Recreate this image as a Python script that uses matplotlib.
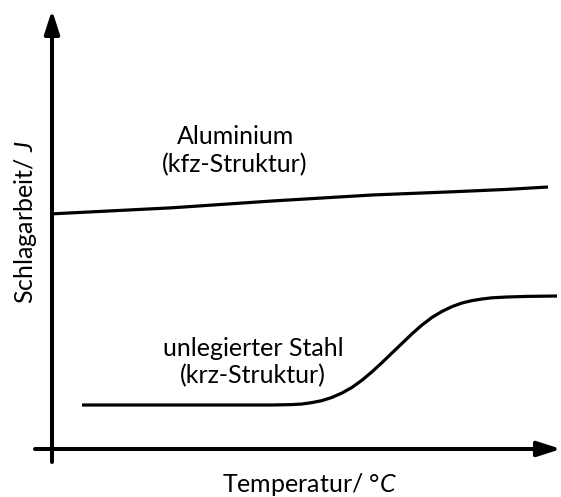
import matplotlib
matplotlib.use("Agg")
import matplotlib.pyplot as plt

plt.rcParams["font.family"] = ["Lato", "DejaVu Sans"]
plt.rcParams["mathtext.fontset"] = "custom"
plt.rcParams["mathtext.rm"] = "Lato"
plt.rcParams["mathtext.it"] = "Lato:italic"

# schematic curves, temperature (0..100) vs. impact energy (0..100)
alu_temp = [0.2, 24, 44, 64, 80, 91, 99.2]
alu_energy = [58.8, 60.3, 62.0, 63.5, 64.3, 64.9, 65.5]

steel_temp = [6, 44, 48, 50, 52, 54, 56, 58, 60, 62, 64, 66, 68, 70, 72, 74,
              76, 78, 80, 82, 84, 86, 88, 91, 95, 101]
steel_energy = [11, 11, 11.1, 11.25, 11.6, 12.1, 12.9, 14.0, 15.4, 17.2, 19.3,
                21.6, 24.0, 26.4, 28.8, 31.0, 32.9, 34.4, 35.6, 36.5, 37.1,
                37.5, 37.8, 38.0, 38.15, 38.25]

xlabel = "Temperatur/ $\\mathit{°C}$"
ylabel = "Schlagarbeit/ $\\mathit{J}$"

fig = plt.figure(figsize=(5.61, 4.97), dpi=100)
ax = fig.add_axes([52 / 561, 48 / 497, 500 / 561, 400 / 497])
ax.set_xlim(0, 100)
ax.set_ylim(0, 100)
ax.axis("off")

lw_axis = 2.9
ax.annotate("", xy=(0, 109.75), xytext=(0, -3.25),
            arrowprops=dict(arrowstyle="-|>,head_length=1.4,head_width=0.45",
                            lw=lw_axis, color="black", shrinkA=0, shrinkB=0),
            annotation_clip=False)
ax.annotate("", xy=(101.8, 0), xytext=(-3.4, 0),
            arrowprops=dict(arrowstyle="-|>,head_length=1.4,head_width=0.45",
                            lw=lw_axis, color="black", shrinkA=0, shrinkB=0),
            annotation_clip=False)

ax.plot(alu_temp, alu_energy, color="black", lw=2.3, clip_on=False,
        solid_capstyle="butt", solid_joinstyle="round")
ax.plot(steel_temp, steel_energy, color="black", lw=2.3, clip_on=False,
        solid_capstyle="butt", solid_joinstyle="round")

fs = 18
ax.text(36.8, 78, "Aluminium", ha="center", va="center", fontsize=fs)
ax.text(36.6, 71, "(kfz-Struktur)", ha="center", va="center", fontsize=fs)
ax.text(40.2, 25.25, "unlegierter Stahl", ha="center", va="center", fontsize=fs)
ax.text(40.2, 18.25, "(krz-Struktur)", ha="center", va="center", fontsize=fs)

ax.text(51.6, -8.8, xlabel, ha="center", va="center", fontsize=fs)
ax.text(-5.3, 56.75, ylabel, ha="center", va="center", fontsize=fs,
        rotation=90)

fig.savefig("out.png", dpi=100)
